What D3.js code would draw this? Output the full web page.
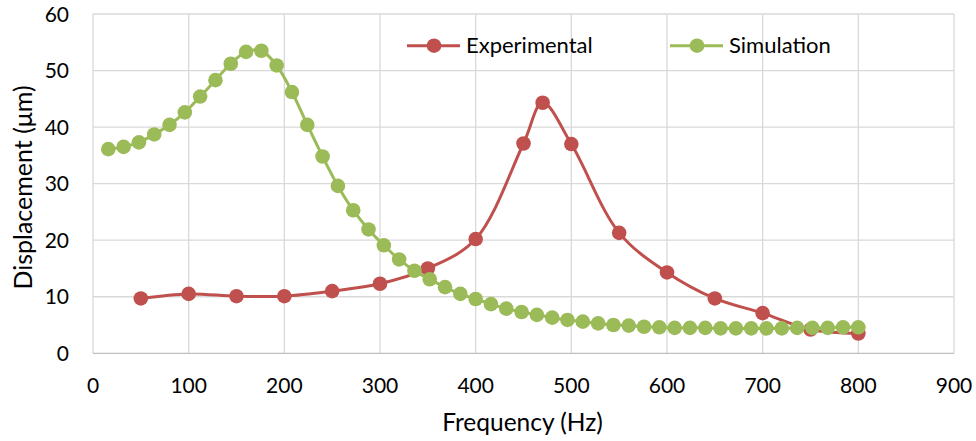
<!DOCTYPE html>
<html>
<head>
<meta charset="utf-8">
<script src="https://cdn.jsdelivr.net/npm/d3@7"></script>
<style>
  body { margin: 0; background: #fff; }
  text { font-family: Lato, "Open Sans", sans-serif; fill: #000; }
</style>
</head>
<body>
<div id="drawing"></div>
<script>
// Experimental data
const expFreq = [50, 100, 150, 200, 250, 300, 350, 400, 450, 470, 500, 550, 600, 650, 700, 750, 800];
const expDisp = [9.7, 10.5, 10.1, 10.1, 11.0, 12.3, 15.0, 20.2, 37.1, 44.3, 37.0, 21.3, 14.3, 9.7, 7.1, 4.2, 3.5];

// Simulation data
const simFreq = [16, 32, 48, 64, 80, 96, 112, 128, 144, 160, 176, 192, 208, 224, 240, 256, 272, 288, 304, 320,
  336, 352, 368, 384, 400, 416, 432, 448, 464, 480, 496, 512, 528, 544, 560, 576, 592, 608, 624, 640,
  656, 672, 688, 704, 720, 736, 752, 768, 784, 800];
const simDisp = [36.1, 36.5, 37.3, 38.7, 40.4, 42.6, 45.4, 48.3, 51.2, 53.3, 53.5, 50.9, 46.2, 40.4, 34.8, 29.6, 25.3, 21.9, 19.1, 16.6,
  14.6, 13.1, 11.7, 10.5, 9.6, 8.7, 7.9, 7.3, 6.8, 6.3, 5.9, 5.6, 5.3, 5.0, 4.9, 4.7, 4.6, 4.5, 4.5, 4.5,
  4.4, 4.4, 4.4, 4.4, 4.4, 4.5, 4.5, 4.5, 4.6, 4.6];

// Axis ticks
const xTicks = [0, 100, 200, 300, 400, 500, 600, 700, 800, 900];
const yTicks = [0, 10, 20, 30, 40, 50, 60];

const svgWidth = 976;
const svgHeight = 441;
const red = "#C0504D";
const green = "#9BBB59";

const svg = d3.select("#drawing")
  .append("svg")
  .attr("width", svgWidth)
  .attr("height", svgHeight);

// Plot area
const x = d3.scaleLinear().domain([0, 900]).range([93, 954]);
const y = d3.scaleLinear().domain([0, 60]).range([353.3, 14]);

// Grid
svg.append("g")
  .selectAll("line.v")
  .data(xTicks)
  .enter()
  .append("line")
  .attr("x1", d => x(d)).attr("x2", d => x(d))
  .attr("y1", y(60)).attr("y2", y(0))
  .attr("stroke", "#d9d9d9").attr("stroke-width", 1.3);

svg.append("g")
  .selectAll("line.h")
  .data(yTicks)
  .enter()
  .append("line")
  .attr("x1", x(0)).attr("x2", x(900))
  .attr("y1", d => y(d)).attr("y2", d => y(d))
  .attr("stroke", d => d === 0 ? "#bfbfbf" : "#d9d9d9").attr("stroke-width", 1.3);

// Tick labels
svg.append("g")
  .selectAll("text")
  .data(xTicks)
  .enter()
  .append("text")
  .attr("x", d => x(d))
  .attr("y", 392.5)
  .attr("text-anchor", "middle")
  .style("font-size", "21px")
  .text(d => d);

svg.append("g")
  .selectAll("text")
  .data(yTicks)
  .enter()
  .append("text")
  .attr("x", 69)
  .attr("y", d => y(d) + 7.5)
  .attr("text-anchor", "end")
  .style("font-size", "21px")
  .text(d => d);

// Axis titles
svg.append("text")
  .attr("x", 522.5)
  .attr("y", 431)
  .attr("text-anchor", "middle")
  .style("font-size", "24.5px")
  .text("Frequency (Hz)");

svg.append("text")
  .attr("transform", "translate(32,187.5) rotate(-90)")
  .attr("text-anchor", "middle")
  .style("font-size", "25px")
  .text("Displacement (μm)");

// Series
const lineGen = d3.line()
  .x(d => x(d[0]))
  .y(d => y(d[1]))
  .curve(d3.curveCatmullRom.alpha(0.5));

const series = [
  {name: "Experimental", color: red, pts: d3.zip(expFreq, expDisp), lx: 407},
  {name: "Simulation", color: green, pts: d3.zip(simFreq, simDisp), lx: 670}
];

series.forEach(s => {
  svg.append("path")
    .attr("d", lineGen(s.pts))
    .attr("fill", "none")
    .attr("stroke", s.color)
    .attr("stroke-width", 3);

  svg.append("g")
    .selectAll("circle")
    .data(s.pts)
    .enter()
    .append("circle")
    .attr("cx", d => x(d[0]))
    .attr("cy", d => y(d[1]))
    .attr("r", 7.3)
    .attr("fill", s.color);

  // Legend
  const lg = svg.append("g");
  lg.append("line")
    .attr("x1", s.lx).attr("x2", s.lx + 53)
    .attr("y1", 45.7).attr("y2", 45.7)
    .attr("stroke", s.color).attr("stroke-width", 3);
  lg.append("circle")
    .attr("cx", s.lx + 27).attr("cy", 45.7)
    .attr("r", 7.3)
    .attr("fill", s.color);
  lg.append("text")
    .attr("x", s.lx + 59)
    .attr("y", 53)
    .style("font-size", "22px")
    .text(s.name);
});
</script>
</body>
</html>
